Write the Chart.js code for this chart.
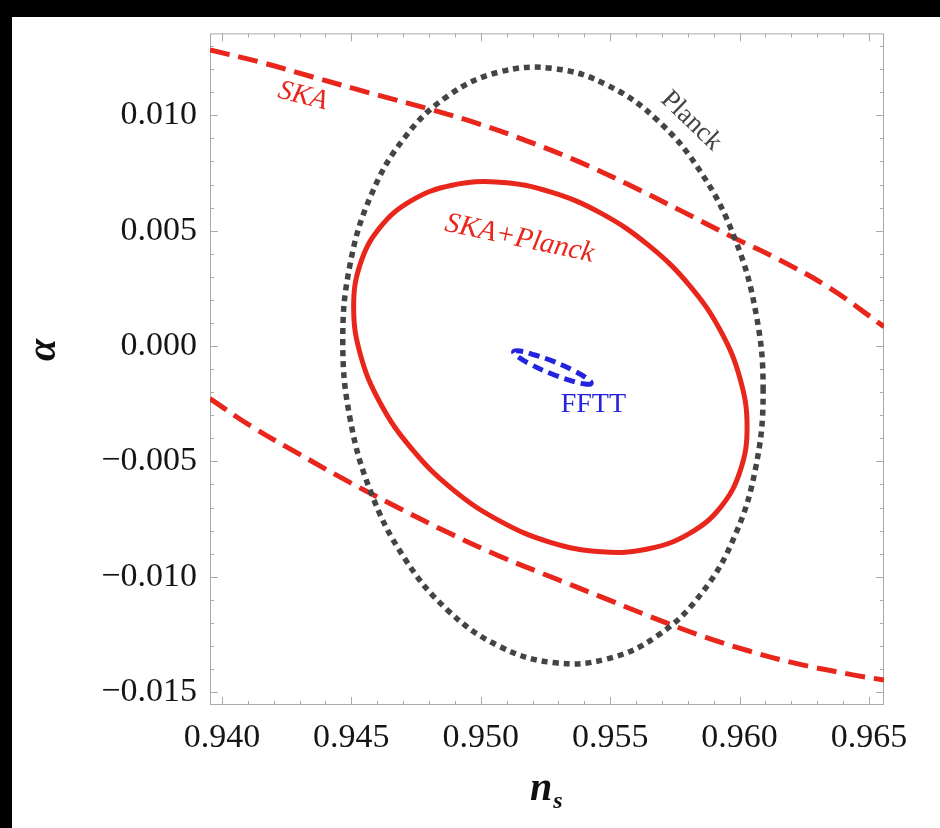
<!DOCTYPE html>
<html>
<head>
<meta charset="utf-8">
<title>n_s - alpha forecast contours</title>
<script src="https://cdn.jsdelivr.net/npm/chart.js@4.4.1/dist/chart.umd.min.js"></script>
<style>
  html, body { margin: 0; padding: 0; background: #000; }
  #wrap { width: 940px; height: 828px; }
</style>
</head>
<body>
<div id="wrap"><canvas id="contours" width="940" height="828"></canvas></div>
<script>
// Axis ranges and tick labels
const X_MIN = 0.93954, X_MAX = 0.96558;
const Y_MIN = -0.01556, Y_MAX = 0.01355;
const xTicks = [0.940, 0.945, 0.950, 0.955, 0.960, 0.965];
const yTicks = [-0.015, -0.010, -0.005, 0.000, 0.005, 0.010];

// Planck 1-sigma contour (closed)
const planckNs = [0.96091, 0.96063, 0.95982, 0.95853, 0.95685, 0.95489, 0.95279, 0.95069, 0.94873, 0.94705,
  0.94576, 0.94495, 0.94467, 0.94495, 0.94576, 0.94705, 0.94873, 0.95069, 0.95279, 0.95489,
  0.95685, 0.95853, 0.95982, 0.96063];
const planckAlpha = [-0.00193, 0.00144, 0.00465, 0.00749, 0.00976, 0.01131, 0.01203, 0.01187, 0.01084, 0.00902,
  0.00653, 0.00353, 0.00023, -0.00314, -0.00635, -0.00919, -0.01146, -0.01300, -0.01372, -0.01356,
  -0.01254, -0.01072, -0.00822, -0.00523];

// SKA+Planck combined contour (closed)
const comboNs = [0.96029, 0.96003, 0.95928, 0.95807, 0.95649, 0.95466, 0.95269, 0.95073, 0.94889, 0.94732,
  0.94611, 0.94535, 0.94509, 0.94535, 0.94611, 0.94732, 0.94889, 0.95073, 0.95269, 0.95466,
  0.95649, 0.95807, 0.95928, 0.96003];
const comboAlpha = [-0.00352, -0.00146, 0.00063, 0.00262, 0.00436, 0.00575, 0.00668, 0.00710, 0.00697, 0.00630,
  0.00514, 0.00357, 0.00169, -0.00037, -0.00246, -0.00444, -0.00619, -0.00758, -0.00851, -0.00892,
  -0.00879, -0.00812, -0.00697, -0.00539];

// FFTT contour (closed)
const ffttNs = [0.95427, 0.95403, 0.95345, 0.95268, 0.95194, 0.95143, 0.95127, 0.95151, 0.95209, 0.95286, 0.95360, 0.95411];
const ffttAlpha = [-0.00162, -0.00165, -0.00149, -0.00118, -0.00080, -0.00046, -0.00025, -0.00022, -0.00039, -0.00069, -0.00107, -0.00141];

// SKA alone: two open branches crossing the whole plot
const skaUpperNs = [0.93954, 0.94147, 0.94351, 0.94571, 0.94802, 0.94995, 0.95188, 0.95381, 0.95574, 0.95767,
  0.95971, 0.96153, 0.96346, 0.96558];
const skaUpperAlpha = [0.01283, 0.01231, 0.01166, 0.01097, 0.01027, 0.00962, 0.00885, 0.00798, 0.00698, 0.00590,
  0.00473, 0.00374, 0.00253, 0.00084];
const skaLowerNs = [0.93954, 0.94108, 0.94301, 0.94494, 0.94687, 0.94880, 0.95073, 0.95265, 0.95458, 0.95651,
  0.95844, 0.96037, 0.96230, 0.96423, 0.96558];
const skaLowerAlpha = [-0.00228, -0.00344, -0.00470, -0.00591, -0.00704, -0.00812, -0.00911, -0.00998, -0.01084, -0.01171,
  -0.01253, -0.01322, -0.01379, -0.01422, -0.01448];

const RED = '#e8261c';
const GREY = '#444444';
const BLUE = '#2424e0';
const SERIF = '"Liberation Serif", "DejaVu Serif", serif';

function toPoints(xs, ys) {
  return xs.map((x, i) => ({ x: x, y: ys[i] }));
}

// Closed contour: wrap one point on each side so the spline has proper
// neighbours at the seam; the two padding segments are left invisible.
function toLoop(xs, ys) {
  const pts = toPoints(xs, ys);
  const n = pts.length;
  return [pts[n - 1], ...pts, pts[0], pts[1]];
}

function loopSegments(count) {
  return {
    borderColor: c => (c.p0DataIndex === 0 || c.p0DataIndex === count + 1) ? 'rgba(0,0,0,0)' : undefined
  };
}

function fmt(v) {
  const s = Math.abs(v).toFixed(3);
  return v < -1e-9 ? '\u2212' + s : s;
}

// In-plot curve labels, anchored in data coordinates
const curveLabels = [
  { text: 'SKA', ns: 0.94312, alpha: 0.01083, angle: 14, color: RED, font: 'italic 28px ' + SERIF },
  { text: 'Planck', ns: 0.95813, alpha: 0.00975, angle: 44, color: GREY, font: '27px ' + SERIF },
  { text: 'SKA+Planck', ns: 0.95150, alpha: 0.00465, angle: 12, color: RED, font: 'italic 29px ' + SERIF },
  { text: 'FFTT', ns: 0.95435, alpha: -0.00253, angle: 0, color: BLUE, font: '28px ' + SERIF }
];

const backdrop = {
  id: 'backdrop',
  beforeDraw(chart) {
    const ctx = chart.ctx;
    ctx.save();
    ctx.fillStyle = '#000';
    ctx.fillRect(0, 0, chart.width, chart.height);
    ctx.fillStyle = '#fff';
    ctx.fillRect(12, 17, chart.width - 12, chart.height - 17);
    ctx.restore();
  }
};

// Frame with inward ticks on all four sides, curve labels and axis titles
const frame = {
  id: 'frame',
  beforeDatasetsDraw(chart) {
    const { ctx, chartArea: a, scales: { x, y } } = chart;
    ctx.save();
    ctx.strokeStyle = '#aaaaaa';
    ctx.lineWidth = 1;
    ctx.strokeRect(a.left + 0.5, a.top + 0.5, a.right - a.left - 1, a.bottom - a.top - 1);
    ctx.beginPath();
    for (let i = 0; i <= 25; i++) {
      const v = 0.940 + i * 0.001;
      const len = i % 5 === 0 ? 8 : 4;
      const px = Math.round(x.getPixelForValue(v)) + 0.5;
      ctx.moveTo(px, a.bottom); ctx.lineTo(px, a.bottom - len);
      ctx.moveTo(px, a.top); ctx.lineTo(px, a.top + len);
    }
    for (let i = 0; i <= 28; i++) {
      const v = -0.015 + i * 0.001;
      if (v > Y_MAX) break;
      const len = i % 5 === 0 ? 8 : 4;
      const py = Math.round(y.getPixelForValue(v)) + 0.5;
      ctx.moveTo(a.left, py); ctx.lineTo(a.left + len, py);
      ctx.moveTo(a.right, py); ctx.lineTo(a.right - len, py);
    }
    ctx.stroke();
    ctx.restore();
  },
  afterDatasetsDraw(chart) {
    const { ctx, scales: { x, y } } = chart;
    ctx.save();
    ctx.textAlign = 'center';
    ctx.textBaseline = 'middle';
    curveLabels.forEach(l => {
      ctx.save();
      ctx.translate(x.getPixelForValue(l.ns), y.getPixelForValue(l.alpha));
      ctx.rotate(l.angle * Math.PI / 180);
      ctx.font = l.font;
      ctx.fillStyle = l.color;
      ctx.fillText(l.text, 0, 0);
      ctx.restore();
    });
    ctx.restore();
  },
  afterDraw(chart) {
    const { ctx } = chart;
    ctx.save();
    ctx.fillStyle = '#111';
    ctx.textBaseline = 'middle';
    ctx.textAlign = 'center';
    // alpha, rotated
    ctx.save();
    ctx.translate(45, 350);
    ctx.rotate(-Math.PI / 2);
    ctx.font = 'bold italic 40px ' + SERIF;
    ctx.fillText('\u03b1', 0, 0);
    ctx.restore();
    // n_s
    ctx.textAlign = 'left';
    ctx.textBaseline = 'alphabetic';
    ctx.font = 'bold italic 40px ' + SERIF;
    ctx.fillText('n', 530, 800);
    const w = ctx.measureText('n').width;
    ctx.font = 'bold italic 24px ' + SERIF;
    ctx.fillText('s', 530 + w + 1, 808);
    ctx.restore();
  }
};

const ctx = document.getElementById('contours').getContext('2d');
new Chart(ctx, {
  type: 'scatter',
  data: {
    datasets: [
      {
        label: 'Planck',
        data: toLoop(planckNs, planckAlpha),
        segment: loopSegments(planckNs.length),
        showLine: true, borderColor: GREY, borderWidth: 5.5, borderDash: [6, 5],
        pointRadius: 0, tension: 0.4, fill: false
      },
      {
        label: 'SKA upper',
        data: toPoints(skaUpperNs, skaUpperAlpha),
        showLine: true, borderColor: RED, borderWidth: 5, borderDash: [20, 9],
        pointRadius: 0, tension: 0.4, fill: false
      },
      {
        label: 'SKA lower',
        data: toPoints(skaLowerNs, skaLowerAlpha),
        showLine: true, borderColor: RED, borderWidth: 5, borderDash: [20, 9],
        pointRadius: 0, tension: 0.4, fill: false
      },
      {
        label: 'SKA+Planck',
        data: toLoop(comboNs, comboAlpha),
        segment: loopSegments(comboNs.length),
        showLine: true, borderColor: RED, borderWidth: 5,
        pointRadius: 0, tension: 0.4, fill: false
      },
      {
        label: 'FFTT',
        data: toLoop(ffttNs, ffttAlpha),
        segment: loopSegments(ffttNs.length),
        showLine: true, borderColor: BLUE, borderWidth: 5, borderDash: [11, 6],
        pointRadius: 0, tension: 0.45, fill: false
      }
    ]
  },
  options: {
    responsive: false,
    animation: false,
    events: [],
    layout: { padding: { left: 0, top: 32, right: 56, bottom: 0 } },
    plugins: { legend: { display: false }, tooltip: { enabled: false } },
    scales: {
      x: {
        type: 'linear', position: 'bottom', min: X_MIN, max: X_MAX,
        afterBuildTicks: s => { s.ticks = xTicks.map(v => ({ value: v })); },
        afterFit: s => { s.height = 123; },
        grid: { display: false, drawTicks: false },
        border: { display: false },
        ticks: {
          callback: v => fmt(v), color: '#151515', padding: 13,
          maxRotation: 0, autoSkip: false, font: { family: SERIF, size: 34 }
        }
      },
      y: {
        type: 'linear', position: 'left', min: Y_MIN, max: Y_MAX,
        afterBuildTicks: s => { s.ticks = yTicks.map(v => ({ value: v })); },
        afterFit: s => { s.width = 210; },
        grid: { display: false, drawTicks: false },
        border: { display: false },
        ticks: {
          callback: v => fmt(v), color: '#151515', padding: 13,
          autoSkip: false, font: { family: SERIF, size: 34 }
        }
      }
    }
  },
  plugins: [backdrop, frame]
});
</script>
</body>
</html>
